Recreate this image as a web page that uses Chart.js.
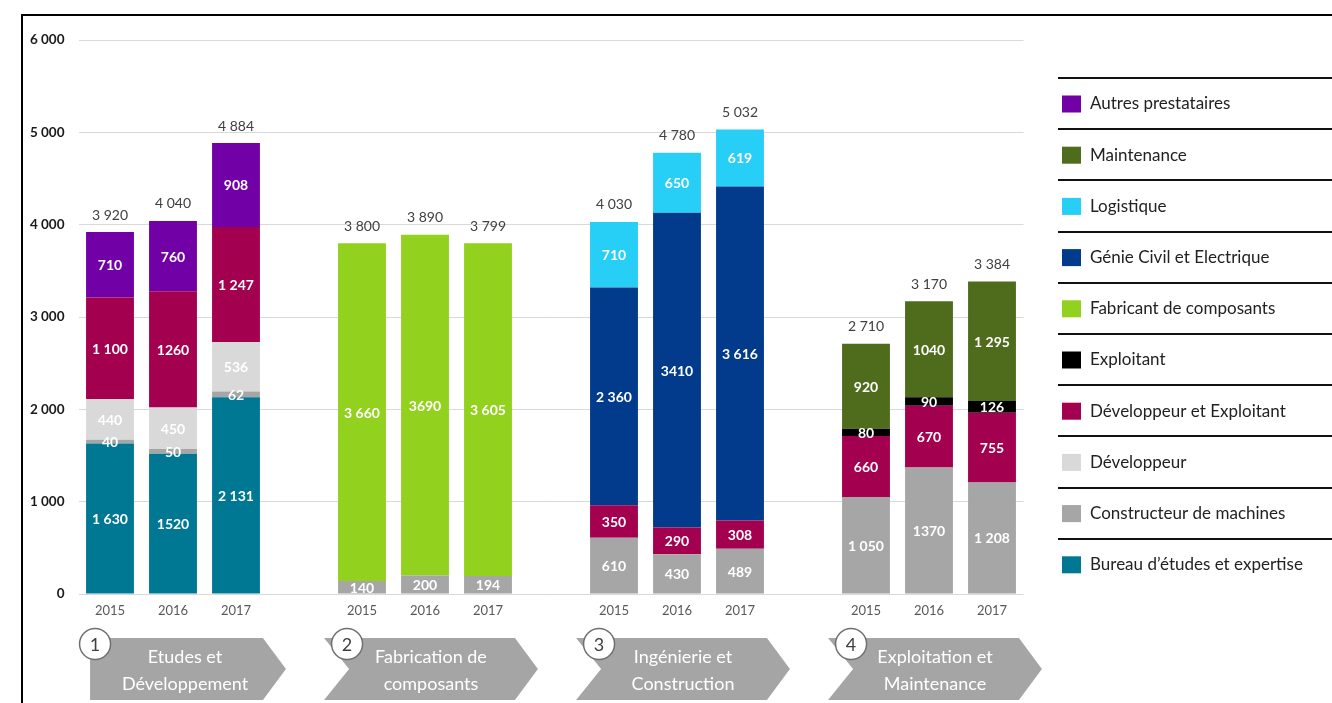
<!DOCTYPE html>
<html>
<head>
<meta charset="utf-8">
<script src="https://cdn.jsdelivr.net/npm/chart.js@4/dist/chart.umd.min.js"></script>
<style>
	html, body { margin: 0; padding: 0; background: #fff; }
	canvas { display: block; }
</style>
</head>
<body>
<canvas id="chainChart" width="1332" height="703"></canvas>
<script>
// one bar per year, three years per stage of the value chain
const years = ['2015', '2016', '2017'];
const stages = [
	['Etudes et', 'Développement'],
	['Fabrication de', 'composants'],
	['Ingénierie et', 'Construction'],
	['Exploitation et', 'Maintenance']
];
const yTicks = [0, 1000, 2000, 3000, 4000, 5000, 6000];

// values per series, 3 years x 4 stages (bottom of the stack first)
const bureauEtudes  = [1630, 1520, 2131,   0, 0, 0,   0, 0, 0,   0, 0, 0];
const constructeur  = [40, 50, 62,   140, 200, 194,   610, 430, 489,   1050, 1370, 1208];
const developpeur   = [440, 450, 536,   0, 0, 0,   0, 0, 0,   0, 0, 0];
const devExploitant = [1100, 1260, 1247,   0, 0, 0,   350, 290, 308,   660, 670, 755];
const exploitant    = [0, 0, 0,   0, 0, 0,   0, 0, 0,   80, 90, 126];
const fabricant     = [0, 0, 0,   3660, 3690, 3605,   0, 0, 0,   0, 0, 0];
const genieCivil    = [0, 0, 0,   0, 0, 0,   2360, 3410, 3616,   0, 0, 0];
const logistique    = [0, 0, 0,   0, 0, 0,   710, 650, 619,   0, 0, 0];
const maintenance   = [0, 0, 0,   0, 0, 0,   0, 0, 0,   920, 1040, 1295];
const autres        = [710, 760, 908,   0, 0, 0,   0, 0, 0,   0, 0, 0];

// these few were printed without the thousands space
const plainNumbers = [1260, 1520, 3690, 3410, 1370, 1040];

const series = [
	{ name: 'Bureau d’études et expertise', values: bureauEtudes, color: '#017893' },
	{ name: 'Constructeur de machines', values: constructeur, color: '#a6a6a6' },
	{ name: 'Développeur', values: developpeur, color: '#d9d9d9' },
	{ name: 'Développeur et Exploitant', values: devExploitant, color: '#a3004f' },
	{ name: 'Exploitant', values: exploitant, color: '#000000' },
	{ name: 'Fabricant de composants', values: fabricant, color: '#93d11f' },
	{ name: 'Génie Civil et Electrique', values: genieCivil, color: '#023b8b' },
	{ name: 'Logistique', values: logistique, color: '#27cff7' },
	{ name: 'Maintenance', values: maintenance, color: '#4f6b1c' },
	{ name: 'Autres prestataires', values: autres, color: '#7100a6' }
];

const FONT = 'Lato, "Open Sans", sans-serif';

const fmt = (v) => plainNumbers.includes(v) ? String(v) : String(v).replace(/\B(?=(\d{3})+(?!\d))/g, ' ');

// insert an empty slot after each stage
function withGaps(arr) {
	const out = [];
	arr.forEach((v, i) => {
		out.push(v ? v : null);
		if (i % 3 === 2 && i < arr.length - 1) out.push(null);
	});
	return out;
}

const slotLabels = [];
stages.forEach((s, si) => {
	years.forEach(y => slotLabels.push(y));
	if (si < stages.length - 1) slotLabels.push('');
});

const totals = slotLabels.map((_, i) =>
	series.reduce((acc, s) => acc + (withGaps(s.values)[i] || 0), 0));

const overlay = {
	id: 'overlay',
	afterDatasetsDraw(chart) {
		const ctx = chart.ctx;
		const xs = chart.scales.x;
		const ys = chart.scales.y;
		ctx.save();
		ctx.textAlign = 'center';
		ctx.textBaseline = 'middle';

		// value inside every segment
		ctx.font = 'bold 14px ' + FONT;
		ctx.fillStyle = '#ffffff';
		chart.data.datasets.forEach((ds, di) => {
			chart.getDatasetMeta(di).data.forEach((bar, i) => {
				const v = ds.data[i];
				if (!v) return;
				ctx.fillText(fmt(v), bar.x, (bar.y + bar.base) / 2 + 1);
			});
		});

		// stack totals
		ctx.font = '14px ' + FONT;
		ctx.fillStyle = '#404040';
		totals.forEach((t, i) => {
			if (!t) return;
			ctx.fillText(fmt(t), xs.getPixelForValue(i), ys.getPixelForValue(t) - 17);
		});
		ctx.restore();
	},
	afterDraw(chart) {
		const ctx = chart.ctx;
		const xs = chart.scales.x;
		ctx.save();

		// frame on top and left
		ctx.strokeStyle = '#000';
		ctx.lineWidth = 2;
		ctx.beginPath();
		ctx.moveTo(22, 703);
		ctx.lineTo(22, 15);
		ctx.lineTo(1332, 15);
		ctx.stroke();

		// legend, top of the stack first, with rules between items
		const legendItems = series.slice().reverse();
		const lx = 1058, rowH = 51.2, ly = 78;
		ctx.strokeStyle = '#111';
		ctx.lineWidth = 2;
		for (let k = 0; k < legendItems.length; k++) {
			const yy = Math.round(ly + k * rowH);
			ctx.beginPath();
			ctx.moveTo(lx, yy);
			ctx.lineTo(1332, yy);
			ctx.stroke();
		}
		ctx.font = '17px ' + FONT;
		ctx.textBaseline = 'middle';
		ctx.textAlign = 'left';
		legendItems.forEach((s, k) => {
			const cy = ly + k * rowH + 26;
			ctx.fillStyle = s.color;
			ctx.fillRect(1062, cy - 8.5, 19, 17);
			ctx.fillStyle = '#222';
			ctx.fillText(s.name, 1090, cy);
		});

		// stage arrows under the year labels
		const barW = chart.getDatasetMeta(0).data[0].width;
		const top = 638, bottom = 700, mid = (top + bottom) / 2;
		stages.forEach((lines, si) => {
			const i0 = si * 4, i2 = si * 4 + 2;
			const firstLeft = xs.getPixelForValue(i0) - barW / 2;
			const tip = xs.getPixelForValue(i2) + barW / 2 + 26;
			const shoulder = tip - 23;
			const left = si === 0 ? firstLeft + 4 : firstLeft - 14;
			ctx.fillStyle = '#a5a5a5';
			ctx.beginPath();
			ctx.moveTo(left, top);
			ctx.lineTo(shoulder, top);
			ctx.lineTo(tip, mid);
			ctx.lineTo(shoulder, bottom);
			ctx.lineTo(left, bottom);
			if (si > 0) ctx.lineTo(left + 25, mid);
			ctx.closePath();
			ctx.fill();

			ctx.fillStyle = '#ffffff';
			ctx.font = '18px ' + FONT;
			ctx.textAlign = 'center';
			const tx = (left + tip) / 2 - (si === 0 ? 3 : 0);
			ctx.fillText(lines[0], tx, 657);
			ctx.fillText(lines[1], tx, 684);

			// numbered circle
			const cx = firstLeft + 9, cy = 644;
			ctx.beginPath();
			ctx.arc(cx, cy, 15.5, 0, Math.PI * 2);
			ctx.fillStyle = '#ffffff';
			ctx.fill();
			ctx.lineWidth = 1.5;
			ctx.strokeStyle = '#6f6f6f';
			ctx.stroke();
			ctx.fillStyle = '#404040';
			ctx.font = '18px ' + FONT;
			ctx.fillText(String(si + 1), cx, cy + 1);
		});
		ctx.restore();
	}
};

new Chart(document.getElementById('chainChart'), {
	type: 'bar',
	data: {
		labels: slotLabels,
		datasets: series.map(s => ({
			label: s.name,
			data: withGaps(s.values),
			backgroundColor: s.color,
			stack: 'all',
			barPercentage: 0.76,
			categoryPercentage: 1
		}))
	},
	options: {
		responsive: false,
		animation: false,
		layout: { padding: { left: 30, right: 308.5, top: 40, bottom: 79 } },
		plugins: {
			legend: { display: false },
			tooltip: { enabled: false }
		},
		scales: {
			x: {
				stacked: true,
				grid: { display: false },
				border: { display: false },
				ticks: {
					autoSkip: false,
					maxRotation: 0,
					padding: 1,
					color: '#595959',
					font: { family: FONT, size: 13 }
				},
				afterFit: (s) => { s.height = 30; }
			},
			y: {
				stacked: true,
				min: yTicks[0],
				max: yTicks[yTicks.length - 1],
				afterBuildTicks: (s) => { s.ticks = yTicks.map(v => ({ value: v })); },
				grid: { color: '#d9d9d9', drawTicks: false },
				border: { display: false },
				ticks: {
					padding: 14,
					color: '#1a1a1a',
					font: { family: FONT, size: 13.5, weight: 'bold' },
					callback: (v) => fmt(v)
				},
				afterFit: (s) => { s.width = 48.5; }
			}
		}
	},
	plugins: [overlay]
});
</script>
</body>
</html>
